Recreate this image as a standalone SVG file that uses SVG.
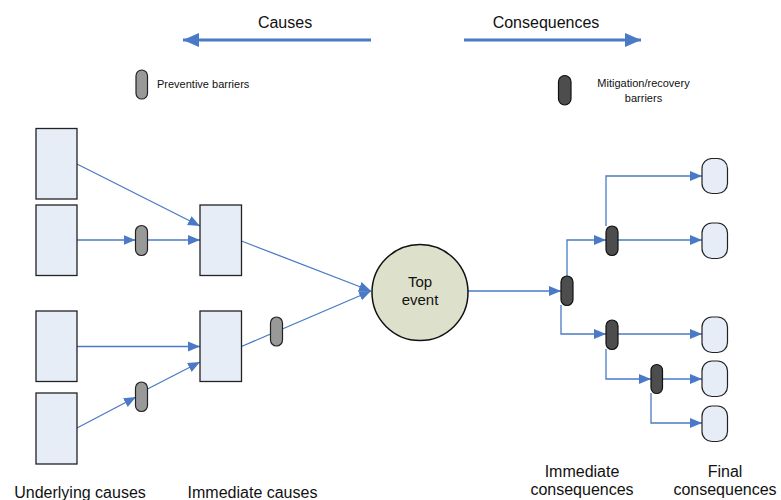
<svg xmlns="http://www.w3.org/2000/svg" width="781" height="500" viewBox="0 0 781 500">
<style>
text{font-family:"Liberation Sans",Arial,sans-serif;fill:#111}
.t16{font-size:16px}
.t15{font-size:15px}
.t11{font-size:11px}
.box{fill:#e6edf7;stroke:#222;stroke-width:1.3}
.fin{fill:#e6edf7;stroke:#222;stroke-width:1.2}
.prev{fill:#999;stroke:#222;stroke-width:1.2}
.mit{fill:#4d4d4d;stroke:#111;stroke-width:1.2}
.c{fill:none;stroke:#4a7ac6;stroke-width:1.3}
.big{fill:none;stroke:#4a7ac6;stroke-width:3}
</style>
<defs>
<marker id="ah" markerUnits="userSpaceOnUse" markerWidth="12" markerHeight="12" refX="12" refY="6" orient="auto">
<path d="M0,1 L12,6 L0,11 z" fill="#4a7ac6"/>
</marker>
<marker id="bh" markerUnits="userSpaceOnUse" markerWidth="16" markerHeight="16" refX="16" refY="8" orient="auto">
<path d="M0,1 L16,8 L0,15 z" fill="#4a7ac6"/>
</marker>
</defs>

<g id="header">
<text class="t16" x="285" y="28" text-anchor="middle">Causes</text>
<text class="t16" x="546" y="28" text-anchor="middle">Consequences</text>
<line class="big" x1="371" y1="40" x2="183" y2="40" marker-end="url(#bh)"/>
<line class="big" x1="464" y1="40" x2="641" y2="40" marker-end="url(#bh)"/>
</g>

<g id="legend-preventive">
<rect class="prev" x="136" y="70" width="11.5" height="29" rx="5.75"/>
<text class="t11" x="157" y="88">Preventive barriers</text>
</g>
<g id="legend-mitigation">
<rect class="mit" x="558.5" y="75.5" width="12.5" height="29.5" rx="6.25"/>
<text class="t11" x="643.5" y="87" text-anchor="middle">Mitigation/recovery</text>
<text class="t11" x="643.5" y="102" text-anchor="middle">barriers</text>
</g>

<g id="connectors">
<line class="c" x1="77" y1="164" x2="200" y2="226" marker-end="url(#ah)"/>
<line class="c" x1="77" y1="240" x2="135.5" y2="240" marker-end="url(#ah)"/>
<line class="c" x1="147.5" y1="240" x2="200" y2="240" marker-end="url(#ah)"/>
<line class="c" x1="241.5" y1="241" x2="371" y2="291" marker-end="url(#ah)"/>
<line class="c" x1="241.5" y1="346.5" x2="371" y2="291" marker-end="url(#ah)"/>
<line class="c" x1="77" y1="346.5" x2="200" y2="346.5" marker-end="url(#ah)"/>
<line class="c" x1="77" y1="428" x2="136" y2="397" marker-end="url(#ah)"/>
<line class="c" x1="147.5" y1="389" x2="200" y2="362" marker-end="url(#ah)"/>
<line class="c" x1="468" y1="291" x2="561" y2="291" marker-end="url(#ah)"/>
<polyline class="c" points="567,276 567,240 606,240" marker-end="url(#ah)"/>
<polyline class="c" points="561,305 561,334 606,334" marker-end="url(#ah)"/>
<line class="c" x1="618" y1="240" x2="702" y2="240" marker-end="url(#ah)"/>
<polyline class="c" points="606,226 606,176 702,176" marker-end="url(#ah)"/>
<line class="c" x1="618" y1="334" x2="702" y2="334" marker-end="url(#ah)"/>
<polyline class="c" points="606,349 606,379 651,379" marker-end="url(#ah)"/>
<line class="c" x1="662" y1="379" x2="702" y2="379" marker-end="url(#ah)"/>
<polyline class="c" points="651,393 651,423 702,423" marker-end="url(#ah)"/>
</g>

<g id="underlying-1"><rect class="box" x="36" y="128.5" width="41" height="70.5"/></g>
<g id="underlying-2"><rect class="box" x="36" y="205" width="41" height="70.5"/></g>
<g id="underlying-3"><rect class="box" x="36" y="311" width="41" height="70.5"/></g>
<g id="underlying-4"><rect class="box" x="36" y="393" width="41" height="71"/></g>
<g id="immediate-1"><rect class="box" x="200" y="205" width="41.5" height="70.5"/></g>
<g id="immediate-2"><rect class="box" x="200" y="311" width="41.5" height="70.5"/></g>

<g id="barrier-p1"><rect class="prev" x="135.5" y="225.5" width="12" height="30" rx="6"/></g>
<g id="barrier-p2"><rect class="prev" x="135.5" y="382" width="12" height="29.5" rx="6"/></g>
<g id="barrier-p3"><rect class="prev" x="270.5" y="317" width="12" height="29" rx="6"/></g>

<g id="top-event">
<circle cx="420" cy="292.5" r="48" fill="#dde0cb" stroke="#111" stroke-width="1.5"/>
<text class="t15" x="420" y="287" text-anchor="middle">Top</text>
<text class="t15" x="420" y="305" text-anchor="middle">event</text>
</g>

<g id="barrier-m1"><rect class="mit" x="561" y="276" width="12" height="29.5" rx="6"/></g>
<g id="barrier-m2"><rect class="mit" x="606" y="226" width="12" height="29.5" rx="6"/></g>
<g id="barrier-m3"><rect class="mit" x="606" y="320" width="12" height="29.5" rx="6"/></g>
<g id="barrier-m4"><rect class="mit" x="651" y="364.5" width="11.5" height="29" rx="5.75"/></g>

<g id="final-1"><rect class="fin" x="702" y="158.5" width="25.5" height="35" rx="10"/></g>
<g id="final-2"><rect class="fin" x="702" y="223" width="25.5" height="35.5" rx="10"/></g>
<g id="final-3"><rect class="fin" x="702" y="317" width="25.5" height="35.5" rx="10"/></g>
<g id="final-4"><rect class="fin" x="702" y="361" width="25.5" height="35.5" rx="10"/></g>
<g id="final-5"><rect class="fin" x="702" y="406" width="25.5" height="35.5" rx="10"/></g>

<g id="labels">
<text class="t16" x="80" y="498" text-anchor="middle">Underlying causes</text>
<text class="t16" x="252.5" y="498" text-anchor="middle">Immediate causes</text>
<text class="t16" x="582" y="476.5" text-anchor="middle">Immediate</text>
<text class="t16" x="582" y="495" text-anchor="middle">consequences</text>
<text class="t16" x="725" y="476.5" text-anchor="middle">Final</text>
<text class="t16" x="725" y="495" text-anchor="middle">consequences</text>
</g>
</svg>
